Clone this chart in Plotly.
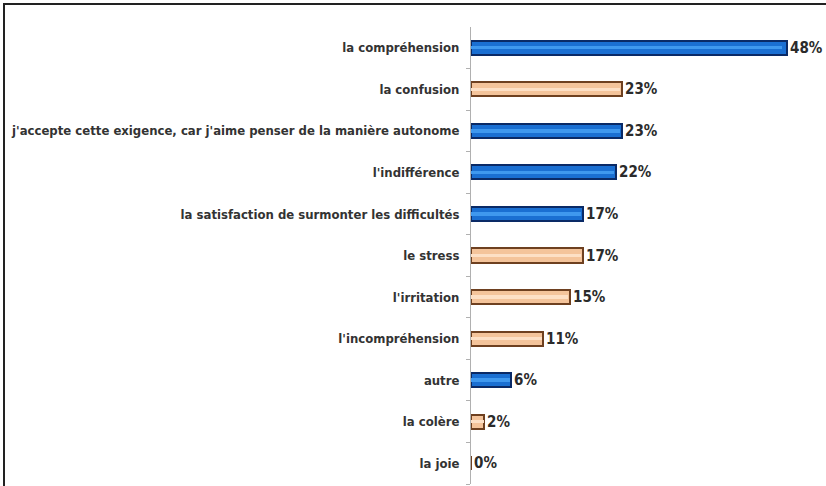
import plotly.graph_objects as go

categories = [
    "la compréhension",
    "la confusion",
    "j'accepte cette exigence, car j'aime penser de la manière autonome",
    "l'indifférence",
    "la satisfaction de surmonter les difficultés",
    "le stress",
    "l'irritation",
    "l'incompréhension",
    "autre",
    "la colère",
    "la joie",
]
values = [48, 23, 23, 22, 17, 17, 15, 11, 6, 2, 0]
groups = ["pos", "neg", "pos", "pos", "pos", "neg", "neg", "neg", "pos", "neg", "neg"]

fill = {"pos": "#1a6fd2", "neg": "#f4c49b"}
shine = {"pos": "#3f98ee", "neg": "#fde0c6"}
edge = {"pos": "#0a2a66", "neg": "#6e4020"}

FONT = "DejaVu Sans Condensed, Liberation Sans Narrow, Arial Narrow, sans-serif"

W, H = 826, 486
left, right, top, bottom = 471, 6, 27, 2
pw, ph = W - left - right, H - top - bottom

fig = go.Figure()
# main bars with dark outline and the value labels
fig.add_trace(go.Bar(
    x=values,
    y=categories,
    orientation="h",
    width=0.34,
    marker=dict(color=[fill[g] for g in groups],
                line=dict(color=[edge[g] for g in groups], width=2)),
    text=[f"<b>{v}%</b>" for v in values],
    textposition="outside",
    constraintext="none",
    cliponaxis=False,
    textfont=dict(family=FONT, size=15, color="#2b2b2b"),
    hoverinfo="skip",
))
# lighter stripe through the middle of each bar for a rounded look
fig.add_trace(go.Bar(
    x=[v * 0.985 if v > 0 else 0 for v in values],
    y=categories,
    orientation="h",
    width=0.08,
    marker=dict(color=[shine[g] for g in groups], line=dict(width=0)),
    hoverinfo="skip",
))

def px_x(p):
    return (p - left) / pw

def px_y(p):
    return (H - bottom - p) / ph

# frame lines along the top and left edges
fig.add_shape(type="line", xref="paper", yref="paper",
              x0=px_x(3), x1=px_x(W), y0=px_y(4), y1=px_y(4),
              line=dict(color="#222222", width=2))
fig.add_shape(type="line", xref="paper", yref="paper",
              x0=px_x(4), x1=px_x(4), y0=px_y(3), y1=px_y(H),
              line=dict(color="#222222", width=2))

fig.update_layout(
    width=W, height=H,
    margin=dict(l=left, r=right, t=top, b=bottom, autoexpand=False),
    paper_bgcolor="white", plot_bgcolor="white",
    showlegend=False,
    barmode="overlay",
    bargap=0,
    font=dict(family=FONT, size=13, color="#333333"),
)
fig.update_xaxes(range=[0, 53], visible=False, automargin=False)
fig.update_yaxes(
    categoryorder="array", categoryarray=categories[::-1],
    tickmode="array", tickvals=categories,
    ticktext=[f"<b>{c}</b>" for c in categories],
    showline=True, linecolor="#b0b0b0", linewidth=1,
    ticks="outside", tickson="boundaries", ticklen=4, tickcolor="#b0b0b0",
    showgrid=False, ticklabelstandoff=8, automargin=False,
    tickfont=dict(family=FONT, size=13, color="#333333"),
)

fig.write_html("out.html")
